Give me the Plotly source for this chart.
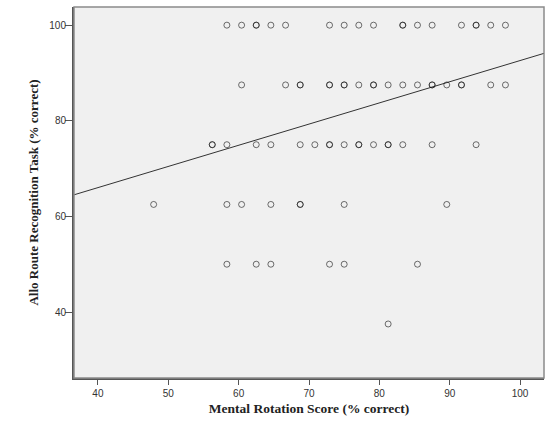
import plotly.graph_objects as go

# Mental Rotation Score (% correct) and Allo Route Recognition (% correct), by row
mr_100 = [58.33, 60.42, 62.5, 62.5, 64.58, 66.67, 72.92, 75.0, 77.08, 79.17, 83.33, 83.33,
          85.42, 87.5, 91.67, 93.75, 93.75, 95.83, 97.92]
mr_875 = [60.42, 66.67, 68.75, 68.75, 72.92, 72.92, 75.0, 75.0, 77.08, 79.17, 79.17, 81.25,
          83.33, 85.42, 87.5, 87.5, 89.58, 91.67, 91.67, 95.83, 97.92]
mr_75 = [56.25, 56.25, 58.33, 62.5, 64.58, 68.75, 70.83, 72.92, 72.92, 75.0, 77.08, 77.08,
         79.17, 81.25, 81.25, 83.33, 87.5, 93.75]
mr_625 = [47.92, 58.33, 60.42, 64.58, 68.75, 68.75, 75.0, 89.58]
mr_50 = [58.33, 62.5, 64.58, 72.92, 75.0, 85.42]
mr_375 = [81.25]

row_scores = [100, 87.5, 75, 62.5, 50, 37.5]
rows = [mr_100, mr_875, mr_75, mr_625, mr_50, mr_375]

mental_rotation = []
allo_route = []
for score, xs in zip(row_scores, rows):
    mental_rotation += xs
    allo_route += [score] * len(xs)

# Linear fit line
fit_intercept = 48.3
fit_slope = 0.443
x_range = [36.6, 103.4]
y_range = [26.2, 103.8]

x_ticks = [40, 50, 60, 70, 80, 90, 100]
y_ticks = [40, 60, 80, 100]

fig = go.Figure()
fig.add_trace(go.Scatter(
    x=x_range,
    y=[fit_intercept + fit_slope * v for v in x_range],
    mode="lines",
    line=dict(color="#333333", width=1),
    hoverinfo="skip",
))
fig.add_trace(go.Scatter(
    x=mental_rotation, y=allo_route, mode="markers",
    marker=dict(symbol="circle-open", size=6, color="rgba(20,20,20,0.6)",
                line=dict(width=1)),
))

fig.update_layout(
    width=551, height=424,
    margin=dict(l=74, r=7, t=7, b=46),
    paper_bgcolor="white",
    plot_bgcolor="#F0F0F0",
    showlegend=False,
    shapes=[dict(type="rect", xref="paper", yref="paper", x0=0, y0=0, x1=1, y1=1,
                 line=dict(color="#8a8a8a", width=1.5), fillcolor="rgba(0,0,0,0)", layer="above")],
)
fig.update_xaxes(
    range=x_range, tickvals=x_ticks, showgrid=False, zeroline=False,
    showline=True, linecolor="#555555", linewidth=2,
    ticks="outside", ticklen=5, tickcolor="#555555", tickwidth=1,
    tickfont=dict(family="Liberation Sans", size=10, color="#333333"),
    title=dict(text="<b>Mental Rotation Score (% correct)</b>",
               font=dict(family="Liberation Serif", size=13.5, color="#222222"), standoff=6),
)
fig.update_yaxes(
    range=y_range, tickvals=y_ticks, showgrid=False, zeroline=False,
    showline=True, linecolor="#555555", linewidth=2,
    ticks="outside", ticklen=7, tickcolor="#555555", tickwidth=1,
    ticklabelstandoff=-3,
    tickfont=dict(family="Liberation Sans", size=10, color="#333333"),
    title=dict(text="<b>Allo Route Recognition Task (% correct)</b>",
               font=dict(family="Liberation Serif", size=13, color="#222222"), standoff=8),
)

fig.write_html("out.html")
